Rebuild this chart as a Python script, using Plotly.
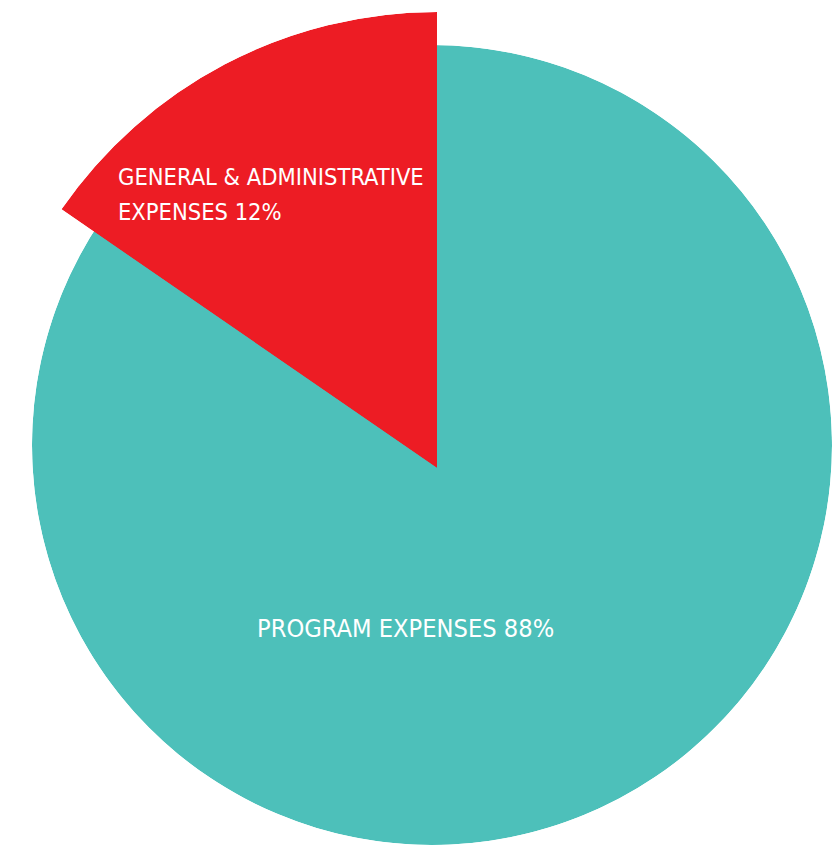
import math
import plotly.graph_objects as go

# ---- data ----
label_lines = [["GENERAL & ADMINISTRATIVE", "EXPENSES"], ["PROGRAM EXPENSES"]]
percent_text = ["12%", "88%"]
# slice sizes as drawn in the picture (share of the full circle, %)
drawn_share = [15.4, 84.6]
colors = ["#ED1C24", "#4DC0BA"]

W, H = 832, 845
FONT = "DejaVu Sans Condensed, Liberation Sans Narrow, Arial Narrow, sans-serif"


def px(x):  # screen x -> paper
    return x / W


def py(y):  # screen y -> paper
    return 1 - y / H


fig = go.Figure()
angles = [s / 100 * 360 for s in drawn_share]
names = [" ".join(l) + " " + p for l, p in zip(label_lines, percent_text)]

# full circle: both slices, theta 0 at 12 o'clock, counterclockwise
cx, cy, r = 432, 445, 400
start = 0
thetas = []
for a in angles:
    thetas.append(start + a / 2)
    start += a
fig.add_trace(go.Barpolar(
    r=[1, 1], theta=thetas, width=angles,
    marker=dict(color=colors, line=dict(width=0)),
    hovertext=names, hoverinfo="text", showlegend=False, subplot="polar",
))

# red wedge, larger radius, in a sector-limited second polar
ax, ay, R = 437, 468, 456
left = ax - R * math.sin(math.radians(angles[0]))
fig.add_trace(go.Barpolar(
    r=[1], theta=[angles[0] / 2], width=[angles[0]],
    marker=dict(color=colors[0], line=dict(width=0)),
    hovertext=[names[0]], hoverinfo="text", showlegend=False, subplot="polar2",
))

common_axes = dict(
    bgcolor="rgba(0,0,0,0)", hole=0,
    radialaxis=dict(range=[0, 1], visible=False, showgrid=False, showline=False),
    angularaxis=dict(rotation=90, direction="counterclockwise", visible=False,
                     showgrid=False, showline=False),
)
fig.update_layout(
    polar=dict(domain=dict(x=[px(cx - r), px(cx + r)], y=[py(cy + r), py(cy - r)]),
               **common_axes),
    polar2=dict(domain=dict(x=[px(left), px(ax)], y=[py(ay), py(ay - R)]),
                sector=[90, 90 + angles[0]], **common_axes),
)

# red slice label (two lines)
red_lines = [label_lines[0][0], label_lines[0][1] + " " + percent_text[0]]
for i, line in enumerate(red_lines):
    fig.add_annotation(
        x=px(116), y=py(177 + 35 * i), xref="paper", yref="paper",
        xanchor="left", yanchor="middle", align="left", showarrow=False,
        text=line, font=dict(family=FONT, size=23.5, color="white"),
    )
# teal slice label
fig.add_annotation(
    x=px(405), y=py(628), xref="paper", yref="paper",
    xanchor="center", yanchor="middle", showarrow=False,
    text=label_lines[1][0] + " " + percent_text[1],
    font=dict(family=FONT, size=25.2, color="white"),
)

fig.update_layout(
    width=W, height=H,
    margin=dict(l=0, r=0, t=0, b=0),
    paper_bgcolor="white", plot_bgcolor="white",
)

fig.write_html(
    "out.html",
    config={"displayModeBar": False},
    post_script="document.body.style.margin='0';document.body.style.overflow='hidden';",
)
